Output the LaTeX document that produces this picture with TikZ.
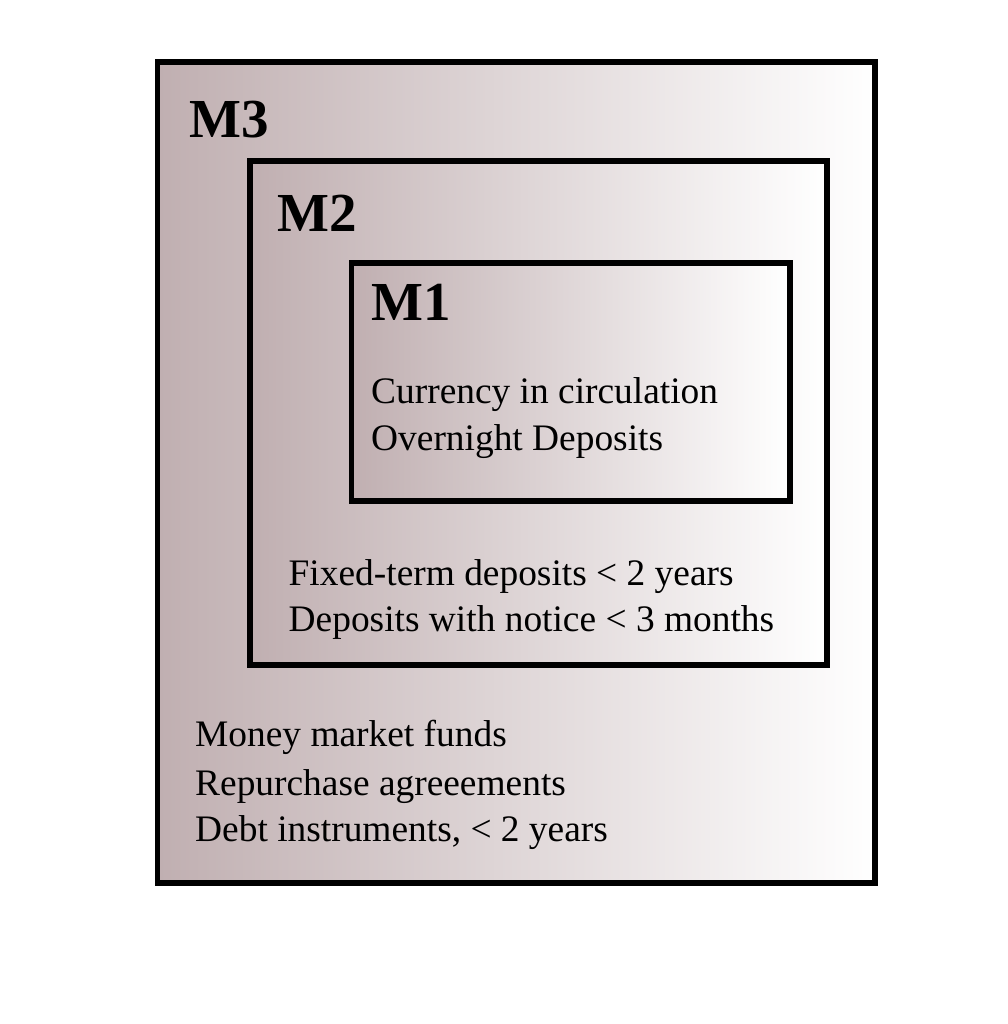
\documentclass[tikz,border=0pt]{standalone}
\usepackage{fontspec}
\setmainfont{Liberation Serif}
\definecolor{mauve}{RGB}{192,175,177}
\pgfdeclarehorizontalshading{fade}{100bp}{color(0bp)=(mauve); color(25bp)=(mauve); color(75bp)=(white); color(100bp)=(white)}
\tikzset{
  box/.style={draw=black, line width=5.5pt, shading=fade},
  title/.style={anchor=base west, inner sep=0pt, font=\fontsize{55}{60}\selectfont\bfseries},
  item/.style={anchor=base west, inner sep=0pt, font=\fontsize{37.4}{44}\selectfont}
}
\begin{document}
\begin{tikzpicture}[x=1pt,y=-1pt]
\useasboundingbox[fill=white] (0,0) rectangle (1007,1024);
\draw[box] (157.5,62) rectangle (875,883);
\draw[box] (250,161) rectangle (827,665);
\draw[box] (351.5,263) rectangle (790,501);
\node[title] (t3) at (189,138) {M3};
\node[title] (t2) at (277,232) {M2};
\node[title] (t1) at (371,320) {M1};
\node[item] (a1) at (371,403.3) {Currency in circulation};
\node[item] (a2) at (371,450) {Overnight Deposits};
\node[item] (b1) at (288.5,585) {Fixed-term deposits < 2 years};
\node[item] (b2) at (288.5,631.7) {Deposits with notice < 3 months};
\node[item] (c1) at (195,746.7) {Money market funds};
\node[item] (c2) at (195,795) {Repurchase agreeements};
\node[item] (c3) at (195,841.7) {Debt instruments, < 2 years};
\end{tikzpicture}
\end{document}
